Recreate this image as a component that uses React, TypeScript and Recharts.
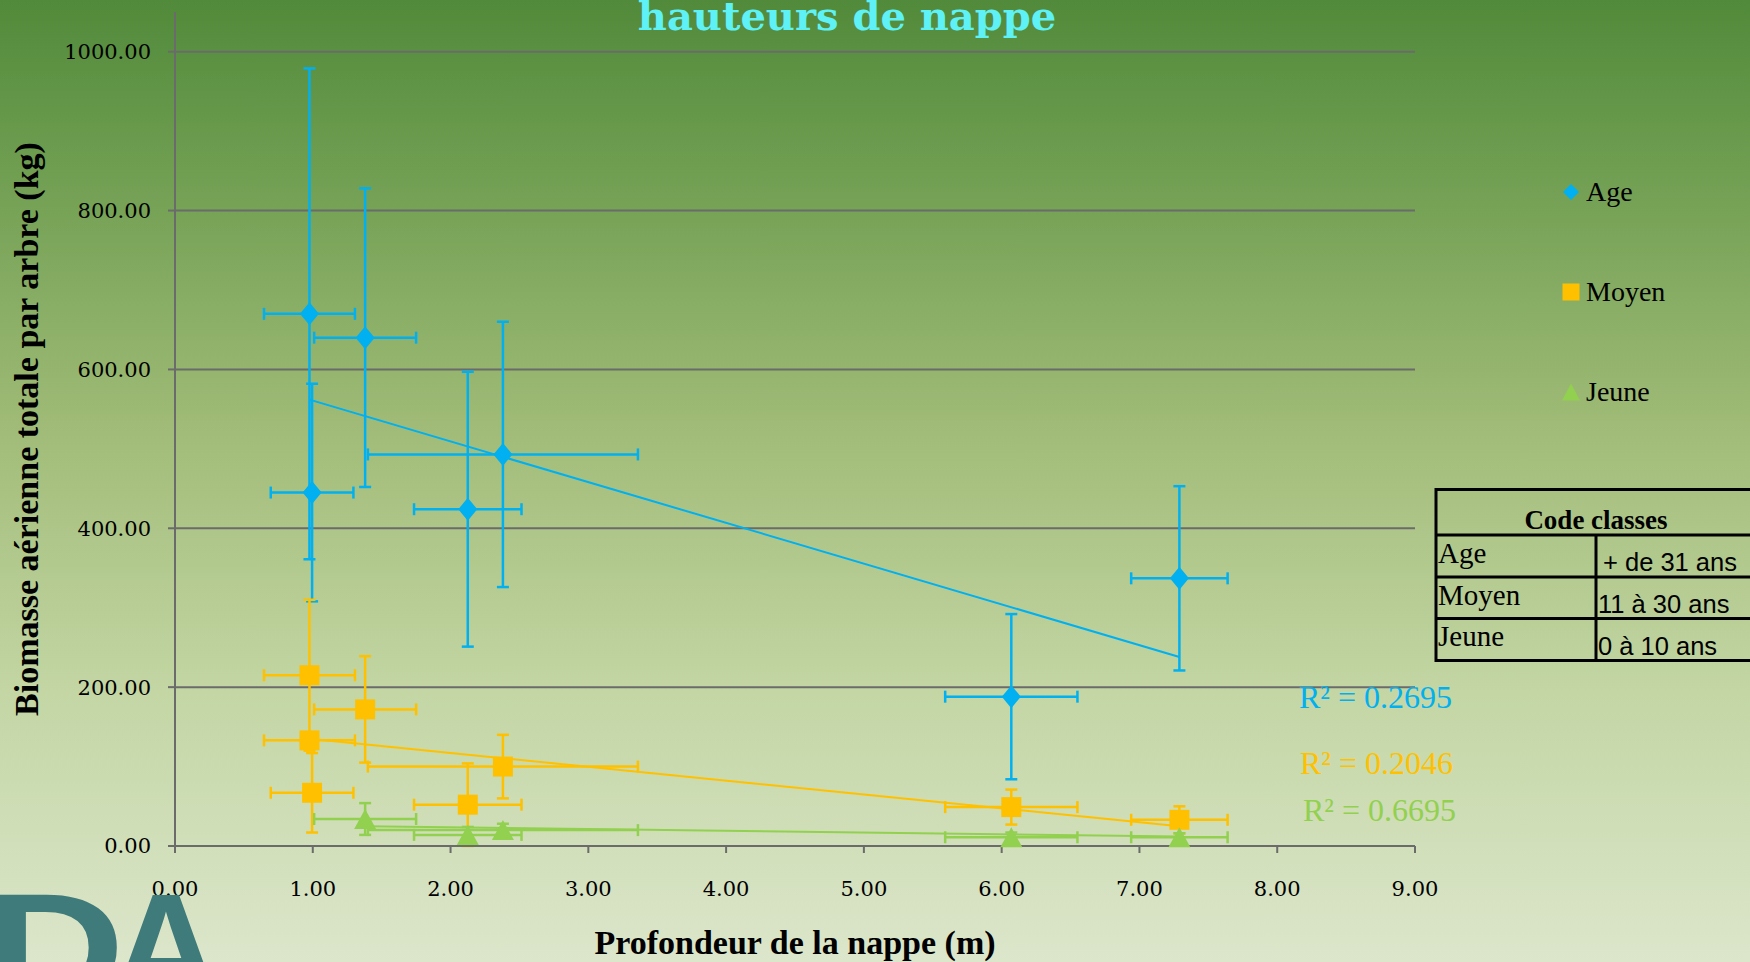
import React from 'react';
import { ScatterChart, Scatter, XAxis, YAxis, CartesianGrid, ErrorBar, Legend } from 'recharts';

// Excel standard colours used by the three age classes
const AGE = '#00B0F0';
const MOYEN = '#FFC000';
const JEUNE = '#92D050';
const GRID = '#6B6B6B';

const xTicks = [0, 1, 2, 3, 4, 5, 6, 7, 8, 9];
const yTicks = [0, 200, 400, 600, 800, 1000];

// Age (+ de 31 ans)
const ageDepth = [0.976, 0.995, 1.38, 2.125, 2.38, 6.07, 7.29];
const ageDepthErr = [0.33, 0.3, 0.37, 0.39, 0.98, 0.48, 0.35];
const ageBiomass = [670, 445, 640, 424, 493, 188, 337];
const ageBiomassErr = [309, 137, 188, 173, 167, 104, 116];

// Moyen (11 à 30 ans)
const moyenDepth = [0.976, 0.976, 0.995, 1.38, 2.125, 2.38, 6.07, 7.29];
const moyenDepthErr = [0.33, 0.33, 0.3, 0.37, 0.39, 0.98, 0.48, 0.35];
const moyenBiomass = [215, 133, 67, 172, 52, 100, 49, 33];
const moyenBiomassErr = [95, 8, 50, 67, 52, 40, 22, 17];

// Jeune (0 à 10 ans)
const jeuneDepth = [1.38, 2.125, 2.38, 6.07, 7.29];
const jeuneDepthErr = [0.37, 0.39, 0.98, 0.48, 0.35];
const jeuneBiomass = [34, 14, 20, 11, 11];
const jeuneBiomassErr = [20, 10, 8, 6, 5];

// linear trendlines, end points as drawn
const trendDepth = [0.976, 7.29];
const ageTrend = [562, 238];
const moyenTrend = [135, 25];
const jeuneTrendDepth = [1.38, 7.29];
const jeuneTrend = [25, 12];

const r2Labels = ['R² = 0.2695', 'R² = 0.2046', 'R² = 0.6695'];

const classNames = ['Age', 'Moyen', 'Jeune'];
const classRanges = ['+ de 31 ans', '11 à 30 ans', '0 à 10 ans'];

const toPoints = (xs: number[], ys: number[], exs: number[], eys: number[]) =>
  xs.map((x, i) => ({ x, y: ys[i], ex: exs[i], ey: eys[i] }));
const toLine = (xs: number[], ys: number[]) => xs.map((x, i) => ({ x, y: ys[i] }));

const ageData = toPoints(ageDepth, ageBiomass, ageDepthErr, ageBiomassErr);
const moyenData = toPoints(moyenDepth, moyenBiomass, moyenDepthErr, moyenBiomassErr);
const jeuneData = toPoints(jeuneDepth, jeuneBiomass, jeuneDepthErr, jeuneBiomassErr);

const Diamond = ({ cx, cy }: any) => (
  <path d={`M${cx},${cy - 11.5}L${cx + 9.5},${cy}L${cx},${cy + 11.5}L${cx - 9.5},${cy}Z`} fill={AGE} />
);
const Square = ({ cx, cy }: any) => <rect x={cx - 10} y={cy - 10} width={20} height={20} fill={MOYEN} />;
const Triangle = ({ cx, cy }: any) => (
  <path d={`M${cx},${cy - 10}L${cx + 11},${cy + 10}L${cx - 11},${cy + 10}Z`} fill={JEUNE} />
);
const NoDot = () => <g />;

const legendItems = [
  { name: 'Age', color: AGE },
  { name: 'Moyen', color: MOYEN },
  { name: 'Jeune', color: JEUNE },
];

const LegendMarker = ({ name, color }: { name: string; color: string }) => {
  if (name === 'Age') return <path d="M10,2L18,10L10,18L2,10Z" fill={color} />;
  if (name === 'Moyen') return <rect x={1.5} y={1.5} width={17} height={17} fill={color} />;
  return <path d="M10,1.5L19,18.5L1,18.5Z" fill={color} />;
};

const LegendContent = () => (
  <div style={{ fontFamily: 'Liberation Serif', fontSize: 28, color: '#000' }}>
    {legendItems.map((it) => (
      <div key={it.name} style={{ height: 100, display: 'flex', alignItems: 'center' }}>
        <svg width={20} height={20} style={{ marginRight: 5 }}>
          <LegendMarker name={it.name} color={it.color} />
        </svg>
        <span>{it.name}</span>
      </div>
    ))}
  </div>
);

const YTitle = ({ viewBox }: any) => {
  const cy = viewBox.y + viewBox.height / 2;
  return (
    <text
      x={38}
      y={cy}
      transform={`rotate(-90 38 ${cy})`}
      textAnchor="middle"
      fontFamily="Liberation Serif"
      fontWeight="bold"
      fontSize={34}
      fill="#000"
    >
      Biomasse aérienne totale par arbre (kg)
    </text>
  );
};

const XTitle = ({ viewBox }: any) => (
  <text
    x={viewBox.x + viewBox.width / 2}
    y={954}
    textAnchor="middle"
    fontFamily="Liberation Serif"
    fontWeight="bold"
    fontSize={34}
    fill="#000"
  >
    Profondeur de la nappe (m)
  </text>
);

const tickStyle = { fontFamily: 'DejaVu Serif', fontSize: 21, fill: '#000' };

export default function App() {
  return (
    <div
      style={{
        position: 'absolute',
        left: 0,
        top: 0,
        width: 1750,
        height: 962,
        overflow: 'hidden',
        background: 'linear-gradient(180deg, #518A3A 0%, #77A357 22%, #A1BC78 45%, #C3D6A4 72%, #DCE6CB 100%)',
      }}
    >
      <ScatterChart width={1750} height={962} margin={{ top: 12, right: 335, bottom: 0, left: 0 }}>
        <CartesianGrid vertical={false} horizontalValues={yTicks} stroke={GRID} strokeWidth={2} />
        <XAxis
          type="number"
          dataKey="x"
          domain={[0, 9]}
          ticks={xTicks}
          tickFormatter={(v: number) => v.toFixed(2)}
          height={116}
          stroke={GRID}
          strokeWidth={2}
          tickSize={7}
          tickMargin={28}
          tick={tickStyle}
          label={XTitle}
        />
        <YAxis
          type="number"
          dataKey="y"
          domain={[0, 1050]}
          ticks={yTicks}
          tickFormatter={(v: number) => v.toFixed(2)}
          width={175}
          stroke={GRID}
          strokeWidth={2}
          tickSize={7}
          tickMargin={17}
          tick={tickStyle}
          label={YTitle}
        />
        <Legend
          layout="vertical"
          align="center"
          verticalAlign="middle"
          content={LegendContent}
          wrapperStyle={{ left: 1561, top: 142, width: 160 }}
        />

        <Scatter data={toLine(trendDepth, ageTrend)} line={{ stroke: AGE, strokeWidth: 2 }} shape={NoDot} legendType="none" isAnimationActive={false} />
        <Scatter data={toLine(trendDepth, moyenTrend)} line={{ stroke: MOYEN, strokeWidth: 2 }} shape={NoDot} legendType="none" isAnimationActive={false} />
        <Scatter data={toLine(jeuneTrendDepth, jeuneTrend)} line={{ stroke: JEUNE, strokeWidth: 2 }} shape={NoDot} legendType="none" isAnimationActive={false} />

        <Scatter name="Age" data={ageData} shape={Diamond} isAnimationActive={false}>
          <ErrorBar dataKey="ey" direction="y" width={6} stroke={AGE} strokeWidth={2.5} />
          <ErrorBar dataKey="ex" direction="x" width={6} stroke={AGE} strokeWidth={2.5} />
        </Scatter>
        <Scatter name="Moyen" data={moyenData} shape={Square} isAnimationActive={false}>
          <ErrorBar dataKey="ey" direction="y" width={6} stroke={MOYEN} strokeWidth={2.5} />
          <ErrorBar dataKey="ex" direction="x" width={6} stroke={MOYEN} strokeWidth={2.5} />
        </Scatter>
        <Scatter name="Jeune" data={jeuneData} shape={Triangle} isAnimationActive={false}>
          <ErrorBar dataKey="ey" direction="y" width={6} stroke={JEUNE} strokeWidth={2.5} />
          <ErrorBar dataKey="ex" direction="x" width={6} stroke={JEUNE} strokeWidth={2.5} />
        </Scatter>
      </ScatterChart>

      {/* title, R² labels, class table and the logo fragment */}
      <svg
        width={1750}
        height={962}
        style={{ position: 'absolute', left: 0, top: 0, pointerEvents: 'none' }}
      >
        <text x={847} y={30} textAnchor="middle" fontFamily="DejaVu Serif" fontWeight="bold" fontSize={40} fill="#5EF2F7">
          hauteurs de nappe
        </text>

        <text x={1299} y={708} fontFamily="Liberation Serif" fontSize={32} fill={AGE}>{r2Labels[0]}</text>
        <text x={1300} y={774} fontFamily="Liberation Serif" fontSize={32} fill={MOYEN}>{r2Labels[1]}</text>
        <text x={1303} y={821} fontFamily="Liberation Serif" fontSize={32} fill={JEUNE}>{r2Labels[2]}</text>

        <g stroke="#000" strokeWidth={3} fill="none">
          <rect x={1436} y={489.5} width={330} height={171} />
          <line x1={1436} y1={535} x2={1766} y2={535} />
          <line x1={1436} y1={577} x2={1766} y2={577} />
          <line x1={1436} y1={618.5} x2={1766} y2={618.5} />
          <line x1={1596} y1={535} x2={1596} y2={660.5} />
        </g>
        <text x={1596} y={529} textAnchor="middle" fontFamily="Liberation Serif" fontWeight="bold" fontSize={27} fill="#000">
          Code classes
        </text>
        {classNames.map((n, i) => (
          <text key={n} x={1438} y={563 + i * 41.5} fontFamily="Liberation Serif" fontSize={29} fill="#000">
            {n}
          </text>
        ))}
        {classRanges.map((r, i) => (
          <text key={r} x={i === 0 ? 1603 : 1598} y={571 + i * 42} fontFamily="Liberation Sans" fontSize={25.5} fill="#000">
            {r}
          </text>
        ))}

        <g fill="#3E7B7A" fontFamily="Liberation Sans" fontWeight="bold" fontSize={155}>
          <text x={-12} y={1002} transform="scale(1.25,1)">D</text>
          <text x={110} y={1002}>A</text>
        </g>
      </svg>
    </div>
  );
}
